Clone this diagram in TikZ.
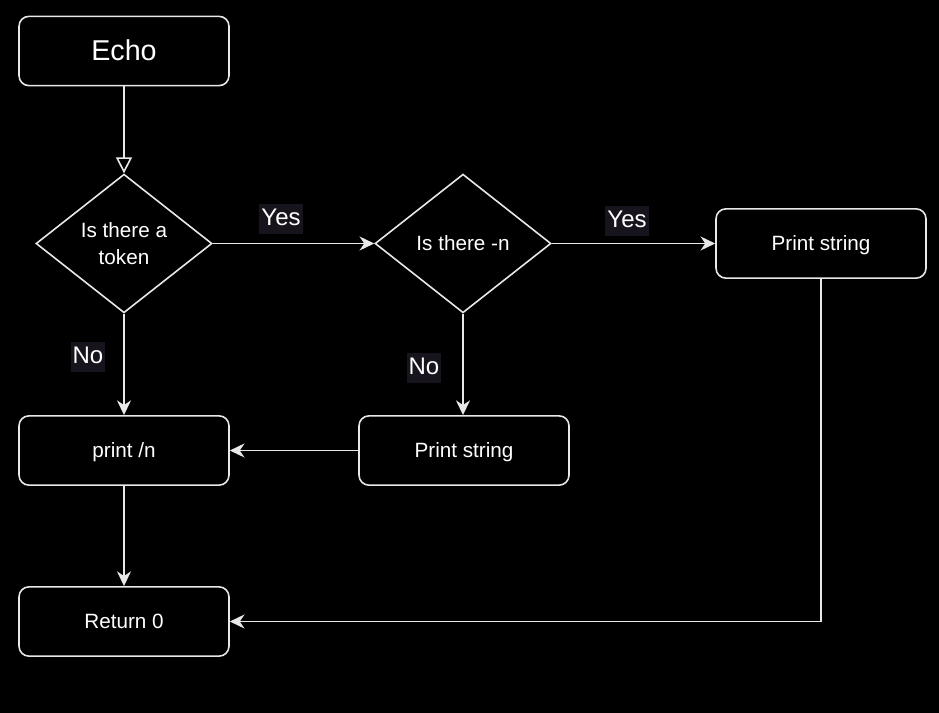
\documentclass[tikz,border=0pt]{standalone}
\usepackage{fontspec}
\setmainfont{Liberation Sans}
\usetikzlibrary{shapes.geometric,arrows.meta}
\definecolor{ln}{RGB}{232,232,232}
\definecolor{lblbg}{RGB}{24,20,30}
\begin{document}
\begin{tikzpicture}[x=0.75pt,y=-0.75pt,
  box/.style={draw=ln,line width=1.2pt,rounded corners=7.5pt,minimum width=157.5pt,minimum height=52pt,inner sep=0pt,text=white,font=\fontsize{15.5}{18}\selectfont,align=center,text height=11pt,text depth=0.5pt},
  dia/.style={draw=ln,line width=1.2pt,diamond,aspect=1.266,minimum width=132pt,minimum height=104pt,inner sep=0pt,text=white,font=\fontsize{15.5}{20}\selectfont,align=center},
  conn/.style={draw=ln,line width=1.2pt,-{Stealth[length=11pt,width=10.5pt,inset=3.5pt]}},
  lbl/.style={fill=lblbg,text=white,font=\fontsize{18}{20}\selectfont,inner xsep=1.5pt,text height=13pt,text depth=3pt,inner ysep=3pt}]
\fill[black] (0,0) rectangle (939,713);
\useasboundingbox (0,0) rectangle (939,713);
\node[box,font=\fontsize{21.5}{24}\selectfont,text height=15.5pt] (echo) at (124,51) {Echo};
\node[dia] (d1) at (124,243.5) {Is there a\\token};
\node[dia] (d2) at (463,243.5) {Is there -n};
\node[box] (ps1) at (821,243.5) {Print string};
\node[box] (pn) at (124,450.5) {print /n};
\node[box] (ps2) at (464,450.5) {Print string};
\node[box] (ret) at (124,621.5) {Return 0};
\coordinate (c1) at (821,621.5);
\draw[draw=ln,line width=1.2pt,-{Triangle[open,length=12pt,width=12pt,fill=black]}] (echo.south) -- (d1.north);
\draw[conn] (d1.east) -- (d2.west);
\draw[conn] (d2.east) -- (ps1.west);
\draw[conn] (d1.south) -- (pn.north);
\draw[conn] (d2.south) -- (d2.south |- ps2.north);
\draw[conn] (ps2.west) -- (pn.east);
\draw[conn] (pn.south) -- (ret.north);
\draw[conn] (ps1.south) -- (c1) -- (ret.east);
\node[lbl] (y1) at (281,219) {Yes};
\node[lbl] (y2) at (627,221) {Yes};
\node[lbl] (n1) at (88,357) {No};
\node[lbl] (n2) at (424,368) {No};
\end{tikzpicture}
\end{document}
